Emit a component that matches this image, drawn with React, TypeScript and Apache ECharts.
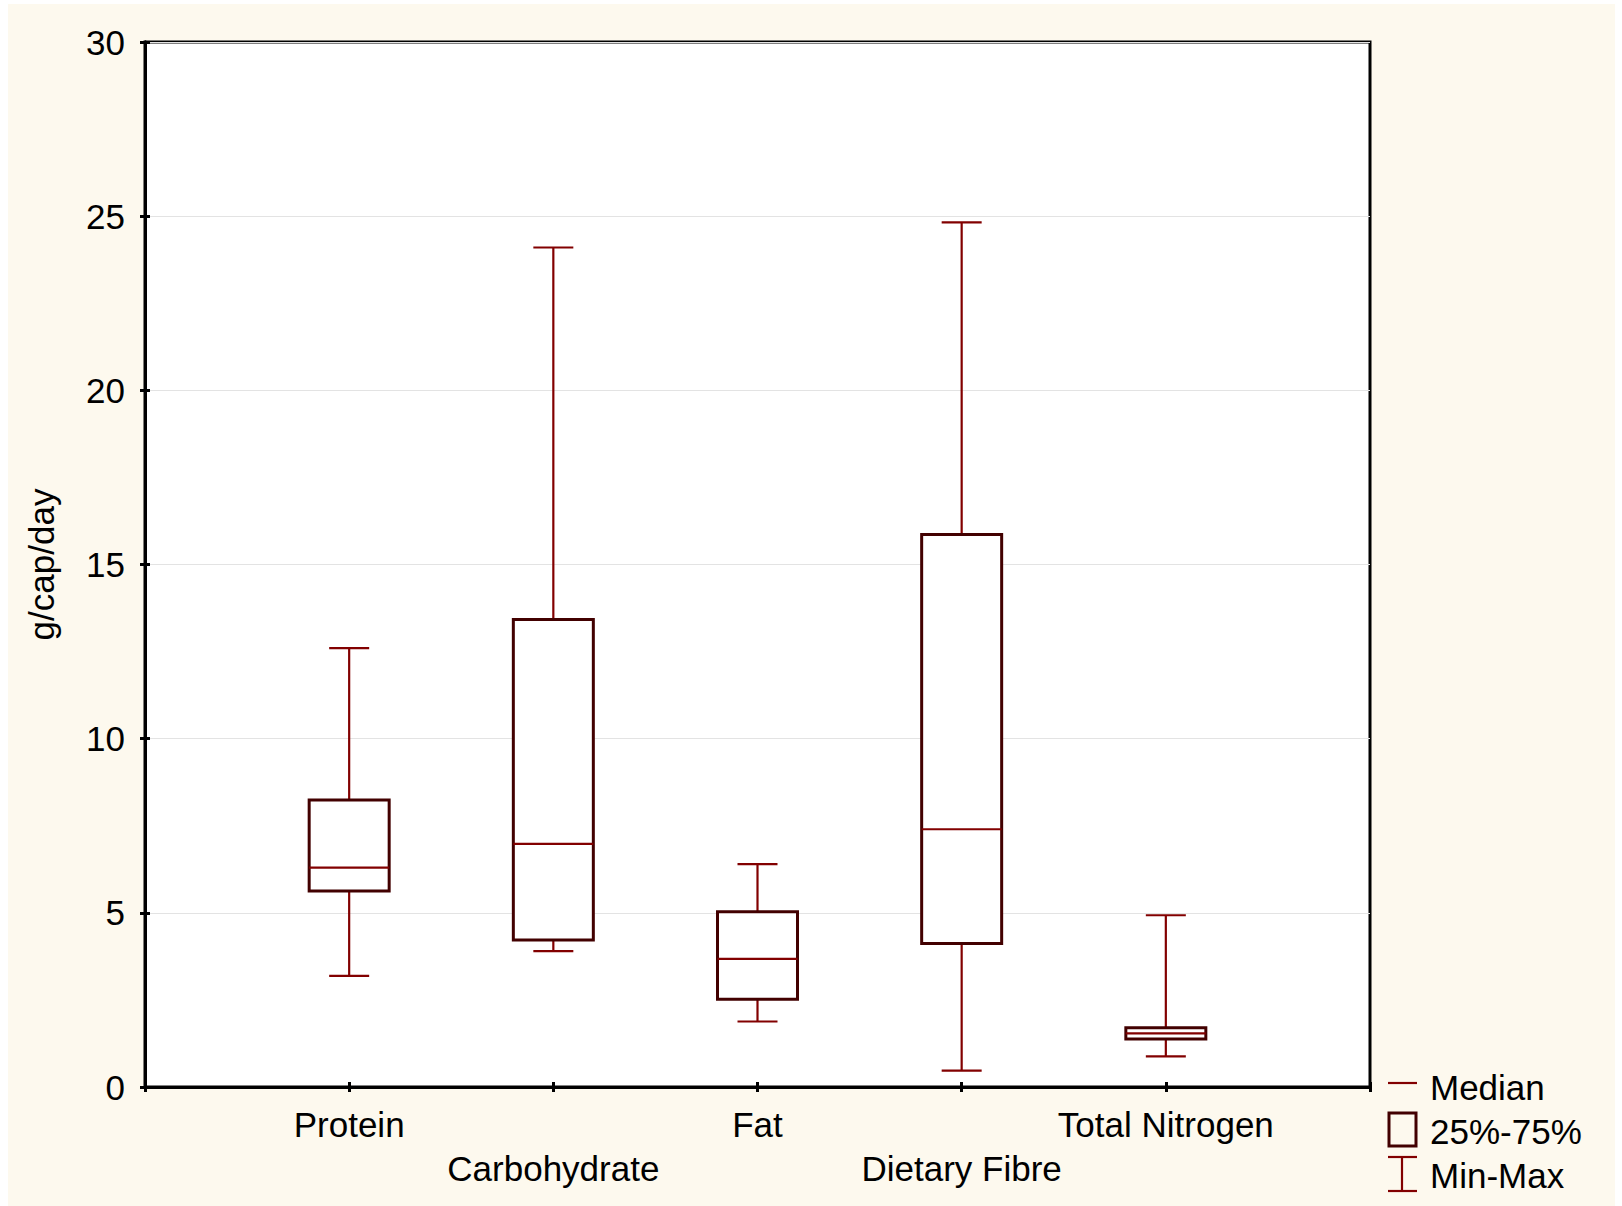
import React, { useEffect, useRef } from "react";
import * as echarts from "echarts";

const categories = ["Protein", "Carbohydrate", "Fat", "Dietary Fibre", "Total Nitrogen"];
const minVals = [3.19, 3.9, 1.88, 0.47, 0.88];
const q1Vals = [5.63, 4.22, 2.52, 4.12, 1.38];
const medianVals = [6.3, 6.98, 3.68, 7.4, 1.54];
const q3Vals = [8.24, 13.42, 5.03, 15.86, 1.7];
const maxVals = [12.6, 24.1, 6.4, 24.82, 4.93];
const yTicks = [0, 5, 10, 15, 20, 25, 30];
const legendLabels = ["Median", "25%-75%", "Min-Max"];

const FONT = "'Liberation Sans', Arial, sans-serif";
const FS = 35;
const WHISKER = "#820000";
const BOXC = "#420000";

export default function App() {
  const ref = useRef<HTMLDivElement>(null);
  useEffect(() => {
    const chart = echarts.init(ref.current!, null, { renderer: "svg" });
    const data = categories.map((_, i) => [i + 1, minVals[i], q1Vals[i], medianVals[i], q3Vals[i], maxVals[i]]);
    const boxW = 80;
    const capW = 40;
    const option: any = {
      animation: false,
      backgroundColor: "#ffffff",
      textStyle: { fontFamily: FONT },
      graphic: [
        { type: "rect", z: -10, silent: true, shape: { x: 8, y: 4, width: 1607, height: 1202 }, style: { fill: "#fdf9ee" } },
        { type: "line", shape: { x1: 1388, y1: 1083, x2: 1417, y2: 1083 }, style: { stroke: WHISKER, lineWidth: 2.2 } },
        { type: "rect", shape: { x: 1389, y: 1113, width: 27, height: 33 }, style: { fill: "#fdf9ee", stroke: BOXC, lineWidth: 3 } },
        { type: "line", shape: { x1: 1388, y1: 1157, x2: 1417, y2: 1157 }, style: { stroke: WHISKER, lineWidth: 2.2 } },
        { type: "line", shape: { x1: 1402, y1: 1157, x2: 1402, y2: 1191 }, style: { stroke: WHISKER, lineWidth: 2.2 } },
        { type: "line", shape: { x1: 1388, y1: 1191, x2: 1417, y2: 1191 }, style: { stroke: WHISKER, lineWidth: 2.2 } },
        ...legendLabels.map((t, i) => ({
          type: "text",
          x: 1430,
          y: [1087, 1131, 1175][i],
          style: { text: t, font: `${FS}px ${FONT}`, fill: "#000", textVerticalAlign: "middle", verticalAlign: "middle" },
        })),
      ],
      grid: {
        left: 145,
        top: 42,
        right: 252,
        bottom: 119,
        show: true,
        backgroundColor: "#ffffff",
        borderColor: "#000",
        borderWidth: 3,
      },
      xAxis: [
        {
          type: "value",
          min: 0,
          max: 6,
          interval: 1,
          axisLine: { show: true, lineStyle: { color: "#000", width: 3 } },
          axisTick: { show: true, inside: true, length: 5, lineStyle: { color: "#000", width: 3 } },
          splitLine: { show: false },
          axisLabel: {
            margin: 15,
            fontSize: FS,
            fontFamily: FONT,
            color: "#000",
            lineHeight: 44,
            verticalAlign: "top",
            formatter: (v: number) => {
              const name = categories[v - 1];
              if (!name) return "";
              return (v - 1) % 2 === 1 ? "\n" + name : name;
            },
          },
        },
        {
          type: "value",
          position: "top",
          min: 0,
          max: 6,
          interval: 1,
          axisLine: { show: true, lineStyle: { color: "#000", width: 3 } },
          axisTick: { show: true, inside: true, length: 5, lineStyle: { color: "#000", width: 3 } },
          axisLabel: { show: false },
          splitLine: { show: false },
        },
      ],
      yAxis: [
        {
          type: "value",
          min: yTicks[0],
          max: yTicks[yTicks.length - 1],
          interval: 5,
          name: "g/cap/day",
          nameLocation: "middle",
          nameRotate: 90,
          nameGap: 86,
          nameTextStyle: { fontSize: FS, fontFamily: FONT, color: "#000" },
          axisLine: { show: true, lineStyle: { color: "#000", width: 3 } },
          axisTick: { show: true, inside: true, length: 5, lineStyle: { color: "#000", width: 3 } },
          splitLine: { show: true, lineStyle: { color: "#e3e3e3", width: 1 } },
          axisLabel: { margin: 20, fontSize: FS, fontFamily: FONT, color: "#000" },
        },
        {
          type: "value",
          position: "right",
          min: 0,
          max: 30,
          interval: 5,
          axisLine: { show: true, lineStyle: { color: "#000", width: 3 } },
          axisTick: { show: true, inside: true, length: 5, lineStyle: { color: "#000", width: 3 } },
          axisLabel: { show: false },
          splitLine: { show: false },
        },
      ],
      series: [
        {
          type: "custom",
          xAxisIndex: 0,
          yAxisIndex: 0,
          data,
          encode: { x: 0, y: [1, 2, 3, 4, 5] },
          renderItem: (params: any, api: any) => {
            const x = api.value(0);
            const pMin = api.coord([x, api.value(1)]);
            const pQ1 = api.coord([x, api.value(2)]);
            const pMed = api.coord([x, api.value(3)]);
            const pQ3 = api.coord([x, api.value(4)]);
            const pMax = api.coord([x, api.value(5)]);
            const cx = pMin[0];
            const ws = { stroke: WHISKER, lineWidth: 2.2 };
            return {
              type: "group",
              children: [
                { type: "line", shape: { x1: cx, y1: pQ3[1], x2: cx, y2: pMax[1] }, style: ws },
                { type: "line", shape: { x1: cx - capW / 2, y1: pMax[1], x2: cx + capW / 2, y2: pMax[1] }, style: ws },
                { type: "line", shape: { x1: cx, y1: pQ1[1], x2: cx, y2: pMin[1] }, style: ws },
                { type: "line", shape: { x1: cx - capW / 2, y1: pMin[1], x2: cx + capW / 2, y2: pMin[1] }, style: ws },
                {
                  type: "rect",
                  shape: { x: cx - boxW / 2, y: pQ3[1], width: boxW, height: pQ1[1] - pQ3[1] },
                  style: { fill: "#ffffff", stroke: BOXC, lineWidth: 3 },
                },
                { type: "line", shape: { x1: cx - boxW / 2, y1: pMed[1], x2: cx + boxW / 2, y2: pMed[1] }, style: ws },
              ],
            };
          },
        },
      ],
    };
    chart.setOption(option);
    return () => chart.dispose();
  }, []);
  return <div ref={ref} style={{ position: "absolute", left: 0, top: 0, width: 1622, height: 1206 }} />;
}
